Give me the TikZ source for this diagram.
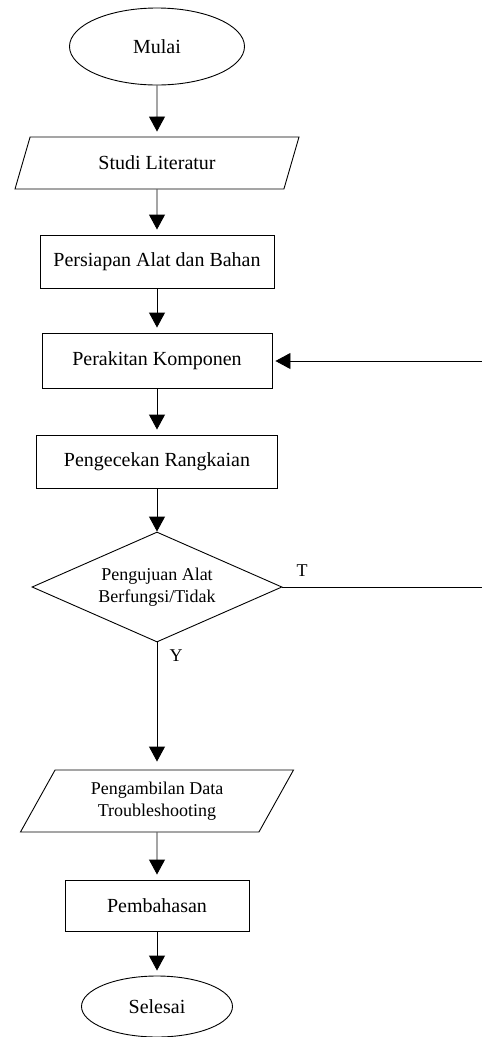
\documentclass[tikz,border=0pt]{standalone}
\usepackage{fontspec}
\setmainfont{Liberation Serif}
\usetikzlibrary{shapes.geometric, arrows.meta, positioning}
\tikzset{
  term/.style={
    draw, ellipse, line width=0.9pt, inner sep=0pt,
    font=\fontsize{20}{22}\selectfont
  },
  proc/.style={
    draw, rectangle, line width=0.9pt, inner sep=0pt,
    font=\fontsize{20}{22}\selectfont
  },
  iobox/.style={
    draw, trapezium, trapezium stretches body, line width=0.9pt,
    inner sep=0pt, align=center, font=\fontsize{#1}{22}\selectfont
  },
  iobox/.default=20,
  decide/.style={
    draw, diamond, aspect=2.27, line width=0.9pt, inner sep=0pt,
    align=center, font=\fontsize{18}{22}\selectfont
  },
  arr/.style={-{Triangle[length=15pt,width=16pt]}, line width=0.9pt, shorten >=#1},
  arr/.default=5pt,
  lbl/.style={font=\fontsize{18}{20}\selectfont},
}
\begin{document}
\begin{tikzpicture}[x=1pt, y=-1pt]
    \useasboundingbox (0,0) rectangle (482,1037);
    \clip (0,0) rectangle (482,1037);

    \node[term, minimum width=175pt, minimum height=77pt] (mulai) at (157,46.5)
      {Mulai};

    \node[iobox, trapezium left angle=43, trapezium right angle=137,
      minimum width=284pt, minimum height=52pt] (studi) at (157,163)
      {Studi Literatur};

    \node[proc, minimum width=234pt, minimum height=53pt] (siap) at (157,261.5)
      {Persiapan Alat dan Bahan};

    \node[proc, minimum width=230pt, minimum height=55pt] (rakit) at (157,360.5)
      {Perakitan Komponen};

    \node[proc, minimum width=241pt, minimum height=53pt] (cek) at (157,461.5)
      {Pengecekan Rangkaian};

    \node[decide, minimum width=250pt, minimum height=110pt] (uji) at (157,587)
      {Pengujuan Alat\\Berfungsi/Tidak};

    \node[iobox=18, trapezium left angle=48, trapezium right angle=132,
      minimum width=273pt, minimum height=62pt] (data) at (157,801)
      {Pengambilan Data\\Troubleshooting};

    \node[proc, minimum width=184pt, minimum height=51pt] (bahas) at (157,905.5)
      {Pembahasan};

    \node[term, minimum width=151pt, minimum height=61pt] (selesai) at (157,1006.5)
      {Selesai};

    \node[lbl] (tlbl) at (302,571) {T};
    \node[lbl] (ylbl) at (176,656) {Y};

    \coordinate (belok1) at (490,587);
    \coordinate (belok2) at (490,361);

    \draw[arr] (mulai) -- (studi);
    \draw[arr] (studi) -- (siap);
    \draw[arr] (siap) -- (rakit);
    \draw[arr] (rakit) -- (cek);
    \draw[arr=0pt] (cek) -- (uji);
    \draw[arr=8pt] (uji) -- (data);
    \draw[arr] (data) -- (bahas);
    \draw[arr] (bahas) -- (selesai);
    \draw[arr=3pt] (uji.east) -- (belok1) -- (belok2) -- (rakit.east |- belok2);
  \end{tikzpicture}
\end{document}
